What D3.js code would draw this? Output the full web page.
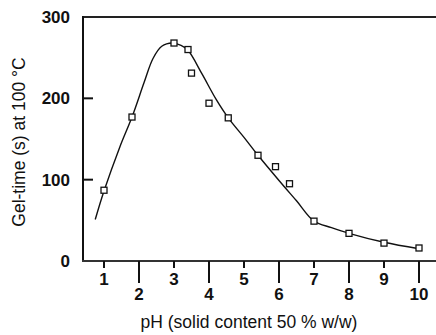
<!DOCTYPE html>
<html>
<head>
<meta charset="utf-8">
<script src="https://cdnjs.cloudflare.com/ajax/libs/d3/7.8.5/d3.min.js"></script>
<style>
    body { margin: 0; background: #fff; }
    svg { display: block; }
    .tick-label { font-family: 'Liberation Sans', Arial, sans-serif; font-weight: bold; font-size: 17px; fill: #111; }
    .axis-title { font-family: 'Liberation Sans', Arial, sans-serif; font-size: 17.5px; fill: #111; }
</style>
</head>
<body>
<svg id="chart" width="436" height="335"></svg>
<script>
'use strict';

// measured points
var pointPh = [1, 1.8, 3, 3.4, 3.5, 4, 4.55, 5.4, 5.9, 6.3, 7, 8, 9, 10];
var pointGel = [87, 177, 268, 260, 231, 194, 176, 130, 116, 95, 49, 34, 22, 16];

// fitted curve
var curvePh = [0.75, 1, 1.45, 1.8, 2.15, 2.4, 2.65, 2.95, 3.2, 3.4, 3.8, 4.2, 4.55, 5, 5.4, 6, 6.5, 7, 7.5, 8, 9, 10];
var curveGel = [51, 86, 140, 177, 220, 249, 264, 268, 265, 259, 230, 199, 176, 152, 130, 99, 74, 49, 41, 34, 23, 15];

var xTicks = [1, 2, 3, 4, 5, 6, 7, 8, 9, 10];
var yTicks = [0, 100, 200, 300];

var svg = d3.select('#chart');

var x = d3.scaleLinear()
    .domain([0.4, 10.5])
    .range([83, 436.5]);

var y = d3.scaleLinear()
    .domain([0, 300])
    .range([261, 17]);

// frame: left axis, top line, bottom axis
svg.append('line')
    .attr('x1', 83).attr('x2', 436)
    .attr('y1', y(300)).attr('y2', y(300))
    .attr('stroke', '#222').attr('stroke-width', 2);

svg.append('line')
    .attr('x1', 83).attr('x2', 83)
    .attr('y1', y(300) - 1).attr('y2', y(0) + 1)
    .attr('stroke', '#111').attr('stroke-width', 2);

svg.append('line')
    .attr('x1', 82).attr('x2', 436)
    .attr('y1', y(0)).attr('y2', y(0))
    .attr('stroke', '#333').attr('stroke-width', 2);

// x ticks, odd ones short with labels close, even ones long
var xt = svg.append('g').selectAll('g')
    .data(xTicks)
    .enter().append('g');

xt.append('line')
    .attr('x1', function (d) { return x(d); })
    .attr('x2', function (d) { return x(d); })
    .attr('y1', y(0))
    .attr('y2', function (d) { return d % 2 ? y(0) + 7 : y(0) + 22; })
    .attr('stroke', '#111').attr('stroke-width', 2);

xt.append('text')
    .attr('class', 'tick-label')
    .attr('text-anchor', 'middle')
    .attr('x', function (d) { return x(d); })
    .attr('y', function (d) { return d % 2 ? y(0) + 24 : y(0) + 39; })
    .text(function (d) { return d; });

// y ticks
svg.append('g').selectAll('line')
    .data(yTicks.filter(function (d) { return d > 0 && d < 300; }))
    .enter().append('line')
    .attr('x1', 83).attr('x2', 93)
    .attr('y1', function (d) { return y(d); })
    .attr('y2', function (d) { return y(d); })
    .attr('stroke', '#111').attr('stroke-width', 2);

svg.append('g').selectAll('text')
    .data(yTicks)
    .enter().append('text')
    .attr('class', 'tick-label')
    .attr('text-anchor', 'end')
    .attr('x', 70)
    .attr('y', function (d) { return y(d) + 6; })
    .text(function (d) { return d; });

// curve
var line = d3.line()
    .x(function (d) { return x(d[0]); })
    .y(function (d) { return y(d[1]); })
    .curve(d3.curveCatmullRom.alpha(0.5));

svg.append('path')
    .datum(d3.zip(curvePh, curveGel))
    .attr('d', line)
    .attr('fill', 'none')
    .attr('stroke', '#111')
    .attr('stroke-width', 1.4);

// squares
svg.append('g').selectAll('rect')
    .data(d3.zip(pointPh, pointGel))
    .enter().append('rect')
    .attr('x', function (d) { return x(d[0]) - 3; })
    .attr('y', function (d) { return y(d[1]) - 3; })
    .attr('width', 6)
    .attr('height', 6)
    .attr('fill', '#fff')
    .attr('stroke', '#111')
    .attr('stroke-width', 1.3);

// titles
svg.append('text')
    .attr('class', 'axis-title')
    .attr('text-anchor', 'middle')
    .attr('x', 249)
    .attr('y', 328)
    .text('pH (solid content 50 % w/w)');

svg.append('text')
    .attr('class', 'axis-title')
    .attr('text-anchor', 'middle')
    .attr('transform', 'translate(25,142) rotate(-90)')
    .text('Gel-time (s) at 100 \u00B0C');
</script>
</body>
</html>
